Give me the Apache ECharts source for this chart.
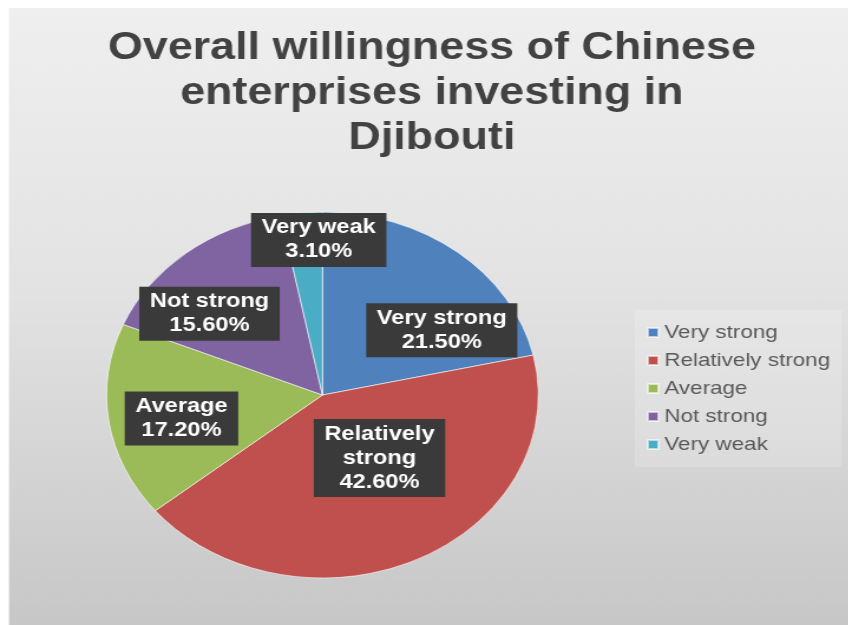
<!DOCTYPE html>
<html>
<head>
<meta charset="utf-8">
<script src="https://cdn.jsdelivr.net/npm/echarts@6/dist/echarts.min.js"></script>
<style>
  html, body { margin: 0; padding: 0; background: #ffffff; overflow: hidden; }
  #chart { height: 625px; transform-origin: 0 0; }
</style>
</head>
<body>
<div id="chart"></div>
<script>
// Survey shares, in percent
const categories = ['Very strong', 'Relatively strong', 'Average', 'Not strong', 'Very weak'];
const shares = [21.5, 42.6, 17.2, 15.6, 3.1];
const sliceColors = ['#4F81BD', '#C0504D', '#9BBB59', '#8064A2', '#4BACC6'];
const titleText = 'Overall willingness of Chinese\nenterprises investing in\nDjibouti';

// The whole drawing is widened a little, like a stretched slide
const SX = 1.18;
const W = 849 / SX;
const el = document.getElementById('chart');
el.style.width = W + 'px';
el.style.transform = 'scaleX(' + SX + ')';

// Label nudges away from the default inside position
const labelNudge = {
  'Very strong': [42, 9],
  'Relatively strong': [7, -22],
  'Average': [-26, 10],
  'Not strong': [-36, -8],
  'Very weak': [6, -61]
};

const chart = echarts.init(el, null, { renderer: 'canvas' });
chart.setOption({
  animation: false,
  backgroundColor: '#ffffff',
  graphic: [{
    type: 'rect',
    silent: true,
    z: -10,
    shape: { x: 9 / SX, y: 8, width: W - 9 / SX, height: 625 - 8 },
    style: {
      fill: new echarts.graphic.LinearGradient(0, 0, 0, 1, [
        { offset: 0, color: '#efefef' },
        { offset: 0.45, color: '#e3e3e3' },
        { offset: 1, color: '#c7c7c7' }
      ])
    }
  }],
  title: {
    text: titleText,
    left: 366,
    top: 26,
    padding: 0,
    textAlign: 'center',
    textStyle: {
      fontFamily: 'Liberation Sans',
      fontWeight: 'bold',
      fontSize: 38,
      lineHeight: 45,
      color: '#424242'
    }
  },
  legend: {
    orient: 'vertical',
    left: 538,
    top: 310,
    padding: [13, 10, 13, 10],
    backgroundColor: 'rgba(255,255,255,0.18)',
    itemWidth: 9,
    itemHeight: 9,
    itemGap: 9,
    icon: 'rect',
    selectedMode: false,
    data: categories,
    textStyle: {
      fontFamily: 'Liberation Sans',
      fontSize: 19,
      lineHeight: 19,
      color: '#595959'
    }
  },
  series: [{
    type: 'pie',
    center: [273.3, 395],
    radius: 183,
    startAngle: 90,
    clockwise: true,
    avoidLabelOverlap: false,
    emphasis: { disabled: true },
    itemStyle: { borderColor: 'rgba(255,255,255,0.6)', borderWidth: 1 },
    label: {
      show: true,
      position: 'inside',
      formatter: p => (p.name.length > 12 ? p.name.replace(' ', '\n') : p.name) + '\n' + p.value.toFixed(2) + '%',
      fontFamily: 'Liberation Sans',
      fontWeight: 'bold',
      fontSize: 20,
      lineHeight: 24,
      color: '#ffffff',
      backgroundColor: '#3a3a3a',
      padding: [3, 9]
    },
    labelLine: { show: false },
    labelLayout: p => {
      const n = labelNudge[categories[p.dataIndex]] || [0, 0];
      return { dx: n[0], dy: n[1] };
    },
    data: categories.map((name, i) => ({
      name: name,
      value: shares[i],
      itemStyle: { color: sliceColors[i] }
    }))
  }]
});
</script>
</body>
</html>
